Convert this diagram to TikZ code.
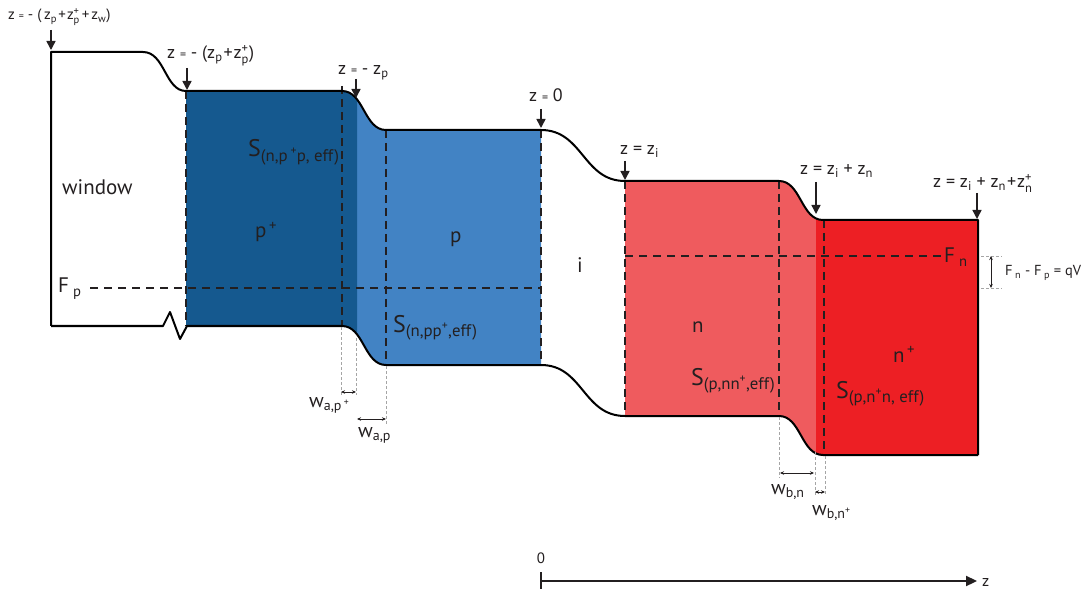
\documentclass[tikz,border=0pt]{standalone}
\usepackage{fontspec}
\setmainfont{PT Sans}
\usetikzlibrary{arrows.meta}
\definecolor{pdark}{RGB}{21,89,143}
\definecolor{plight}{RGB}{66,131,196}
\definecolor{nlight}{RGB}{239,91,94}
\definecolor{ndark}{RGB}{237,31,36}
\definecolor{guidegray}{RGB}{165,165,165}
\definecolor{ink}{RGB}{35,31,32}
\makeatletter
\newcommand{\zsub}[1]{\textsubscript{#1}}
\newcommand{\zsubsup}[2]{\ensuremath{^{\mbox{\fontsize\sf@size\z@\selectfont #2}}_{\mbox{\fontsize\sf@size\z@\selectfont #1}}}}
\makeatother
\newcommand{\seq}{{\fontsize{12}{12}\selectfont =}}
\begin{document}
\begin{tikzpicture}[x=1pt,y=-1pt,
  outline/.style={line width=2pt, black, line join=round},
  divider/.style={line width=1.4pt, ink, dash pattern=on 8pt off 5pt},
  fermi/.style={line width=1.2pt, ink, dash pattern=on 8pt off 6pt},
  guide/.style={line width=0.9pt, guidegray, dash pattern=on 3pt off 2pt},
  zarrow/.style={line width=1.5pt, ink, -{Triangle[length=9pt,width=9pt]}},
  warrow/.style={line width=0.8pt, ink, {Stealth[length=4pt,width=3.5pt]}-{Stealth[length=4pt,width=3.5pt]}},
  zlab/.style={anchor=base west, inner sep=0pt, text=ink, font=\fontsize{18}{21}\selectfont},
  biglab/.style={anchor=base west, inner sep=0pt, text=ink, font=\fontsize{21}{25}\selectfont},
  slab/.style={anchor=base west, inner sep=0pt, text=ink, font=\fontsize{24}{28}\selectfont},
  wlab/.style={anchor=base west, inner sep=0pt, text=ink, font=\fontsize{20}{24}\selectfont},
  flab/.style={anchor=base west, inner sep=0pt, text=ink, font=\fontsize{21}{25}\selectfont}]
\useasboundingbox (0,0) rectangle (1086,593);
% ---- fills
\fill[plight] (186,91) -- (342,91) .. controls (364,91) and (364,130) .. (386,130) -- (541,130) -- (541,365) -- (386,365) .. controls (364,365) and (364,326) .. (342,326) -- (186,326) -- cycle;
\begin{scope}
\clip (186,0) rectangle (357,593);
\fill[pdark] (186,91) -- (342,91) .. controls (364,91) and (364,130) .. (386,130) -- (541,130) -- (541,365) -- (386,365) .. controls (364,365) and (364,326) .. (342,326) -- (186,326) -- cycle;
\end{scope}
\fill[nlight] (625,181) -- (779,181) .. controls (801,181) and (801,220) .. (823,220) -- (978,220) -- (978,455) -- (823,455) .. controls (801,455) and (801,416) .. (779,416) -- (625,416) -- cycle;
\begin{scope}
\clip (816,0) rectangle (980,593);
\fill[ndark] (625,181) -- (779,181) .. controls (801,181) and (801,220) .. (823,220) -- (978,220) -- (978,455) -- (823,455) .. controls (801,455) and (801,416) .. (779,416) -- (625,416) -- cycle;
\end{scope}
% ---- dividers
\draw[divider] (186,91) -- (186,326);
\draw[divider] (342,86) -- (342,326);
\draw[divider] (386,130) -- (386,365);
\draw[divider] (541,130) -- (541,365);
\draw[divider] (625,181) -- (625,416);
\draw[divider] (779,181) -- (779,416);
\draw[divider] (824,220) -- (824,455);
% ---- quasi-Fermi levels
\draw[fermi] (90,288) -- (541,288);
\draw[fermi] (625,256) -- (942,256);
% ---- band outline
\draw[outline] (51,326) -- (51,52) -- (143,52) .. controls (165,52) and (165,91) .. (186,91) -- (342,91)
  .. controls (364,91) and (364,130) .. (386,130) -- (541,130)
  .. controls (583,130) and (583,181) .. (625,181) -- (779,181)
  .. controls (801,181) and (801,220) .. (823,220) -- (978,220) -- (978,455);
\draw[outline] (51,326) -- (163,326) -- (170,312) -- (180,339) -- (187,326) -- (342,326)
  .. controls (364,326) and (364,365) .. (386,365) -- (541,365)
  .. controls (583,365) and (583,416) .. (625,416) -- (779,416)
  .. controls (801,416) and (801,455) .. (823,455) -- (978,455);
% ---- position labels and arrows
\node[zlab, font=\fontsize{15}{18}\selectfont] (zw) at (8,20) {z {\fontsize{10}{10}\selectfont =} - (\,z\zsub{p}\kern1.5pt+\kern1pt z\zsubsup{p}{+}\kern2pt+\kern2pt z\zsub{w})};
\node[zlab] (zpp) at (167,59) {z \seq\ - (z\zsub{p}\kern1pt+\kern1pt z\zsubsup{p}{+})};
\node[zlab] (zp) at (338,75) {z \seq\ - z\zsub{p}};
\node[zlab] (z0) at (529,102) {z \seq\ 0};
\node[zlab] (zi) at (620,155) {z = z\zsub{i}};
\node[zlab] (zin) at (800,175) {z = z\zsub{i} + z\zsub{n}};
\node[zlab] (zinn) at (933,188) {z = z\zsub{i} + z\zsub{n}\kern1pt+\kern1pt z\zsubsup{n}{+}};
\coordinate (a1s) at (51,30);  \coordinate (a1e) at (51,50);
\coordinate (a2s) at (187,68); \coordinate (a2e) at (187,90);
\coordinate (a3s) at (356,79); \coordinate (a3e) at (356,98);
\coordinate (a4s) at (541,109); \coordinate (a4e) at (541,128);
\coordinate (a5s) at (625,161); \coordinate (a5e) at (625,180);
\coordinate (a6s) at (816,182); \coordinate (a6e) at (816,214);
\coordinate (a7s) at (977,193); \coordinate (a7e) at (977,219);
\draw[zarrow] (a1s) -- (a1e);
\draw[zarrow] (a2s) -- (a2e);
\draw[zarrow] (a3s) -- (a3e);
\draw[zarrow] (a4s) -- (a4e);
\draw[zarrow] (a5s) -- (a5e);
\draw[zarrow] (a6s) -- (a6e);
\draw[zarrow] (a7s) -- (a7e);
% ---- region labels
\node[biglab] (win) at (62,195) {window};
\node[biglab] (ppl) at (255,238) {p\textsuperscript{\,+}};
\node[biglab] (pl) at (450,243) {p};
\node[biglab] (il) at (577,273) {i};
\node[biglab] (nl) at (692,333) {n};
\node[biglab] (npl) at (893,362) {n\textsuperscript{\,+}};
\node[slab] (s1) at (248,157) {S\zsub{(n,p\,\textsuperscript{+}p, eff)}};
\node[slab] (s2) at (393,332) {S\zsub{(n,pp\textsuperscript{+},eff)}};
\node[slab] (s3) at (691,385) {S\zsub{(p,nn\textsuperscript{+},eff)}};
\node[slab] (s4) at (836,398) {S\zsub{(p,n\textsuperscript{+}n, eff)}};
\node[flab] (fp) at (58,293) {F\hspace{4pt}\zsub{p}};
\node[flab] (fn) at (944,263) {F\hspace{4pt}\zsub{n}};
% ---- qV marker
\draw[guide] (981,256) -- (1002,256);
\draw[guide] (981,288) -- (1002,288);
\coordinate (qt) at (991,256); \coordinate (qb) at (991,288);
\draw[warrow] (qt) -- (qb);
\node[anchor=base west, inner sep=0pt, text=ink, font=\fontsize{14.5}{17}\selectfont] (qv) at (1005,276) {F\,\zsub{n} - F\,\zsub{p} = qV};
% ---- widths
\draw[guide] (341,327) -- (341,395);
\draw[guide] (356,338) -- (356,395);
\draw[guide] (386,366) -- (386,424);
\draw[guide] (779,417) -- (779,478);
\draw[guide] (815,452) -- (815,495);
\draw[guide] (825,456) -- (825,495);
\coordinate (w1a) at (341,392); \coordinate (w1b) at (356,392);
\coordinate (w2a) at (357,419); \coordinate (w2b) at (386,419);
\coordinate (w3a) at (780,473); \coordinate (w3b) at (814,473);
\coordinate (w4a) at (815,492); \coordinate (w4b) at (825,492);
\draw[warrow] (w1a) -- (w1b);
\draw[warrow] (w2a) -- (w2b);
\draw[warrow] (w3a) -- (w3b);
\draw[warrow] (w4a) -- (w4b);
\node[wlab] (wap1) at (309,407) {w\zsub{a,p\,\textsuperscript{+}}};
\node[wlab] (wap) at (358,437) {w\zsub{a,p}};
\node[wlab] (wbn) at (771,494) {w\zsub{b,n}};
\node[wlab] (wbn1) at (812,515) {w\zsub{b,n\textsuperscript{+}}};
% ---- axis
\coordinate (ax0) at (541,581);
\coordinate (ax1) at (977,581);
\coordinate (tk0) at (541,572); \coordinate (tk1) at (541,589);
\draw[line width=2.5pt, ink] (tk0) -- (tk1);
\draw[line width=2.2pt, ink, -{Triangle[length=11pt,width=10pt]}] (ax0) -- (ax1);
\node[anchor=base, inner sep=0pt, text=ink, font=\fontsize{15}{18}\selectfont] (zero) at (541,563) {0};
\node[anchor=base west, inner sep=0pt, text=ink, font=\fontsize{16}{19}\selectfont] (zax) at (982,586) {z};
\end{tikzpicture}
\end{document}
